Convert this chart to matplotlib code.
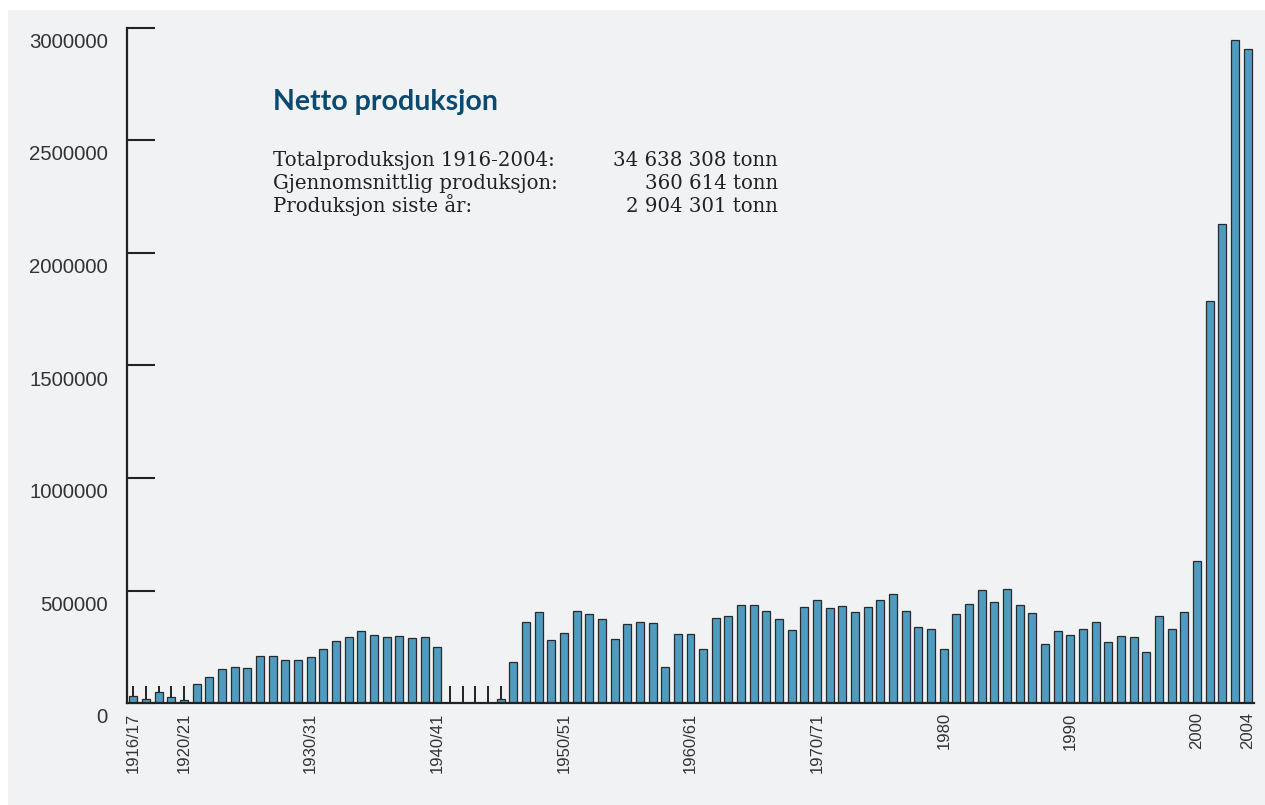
import matplotlib
matplotlib.use("Agg")
import matplotlib.pyplot as plt
import matplotlib.transforms as mtransforms
from matplotlib.patches import Rectangle
from matplotlib.ticker import FixedLocator

# ---------------- data ----------------
years = list(range(1916, 2005))
production = [
    34000, 20700, 50000, 26700, 13000,                                   # 1916-1920
    84500, 115600, 154000, 163000, 155600, 209000, 209000, 192700, 192700, 206000,  # 1921-1930
    243000, 278600, 293400, 321600, 303800, 293400, 300800, 290500, 293400, 249000,  # 1931-1940
    0, 0, 0, 0, 20700,                                                   # 1941-1945
    182000, 360000, 407500, 283000, 311000, 412000, 395700, 375000, 284500, 352700,  # 1946-1955
    361600, 355700, 160000, 306800, 309700, 243000, 380900, 388300, 437200, 438700,  # 1956-1965
    410500, 373500, 327500, 426800, 458000, 425300, 432700, 406000, 429800, 459400,  # 1966-1975
    484600, 410500, 337900, 329000, 243000, 397200, 443100, 503900, 452000, 508300,  # 1976-1985
    438700, 401600, 265300, 320100, 303800, 331100, 359000, 270900, 301000, 292400,  # 1986-1995
    230000, 387000, 329000, 404200, 632100, 1784500, 2128500, 2945000, 2904301,      # 1996-2004
]
label_years = [1916, 1920, 1930, 1940, 1950, 1960, 1970, 1980, 1990, 2000, 2004]
label_texts = ["1916/17", "1920/21", "1930/31", "1940/41", "1950/51", "1960/61",
               "1970/71", "1980", "1990", "2000", "2004"]
marked_years = [1916, 1917, 1918, 1919, 1920, 1941, 1942, 1943, 1944, 1945]
yticks = [0, 500000, 1000000, 1500000, 2000000, 2500000, 3000000]

title = "Netto produksjon"
info_labels = ["Totalproduksjon 1916-2004:", "Gjennomsnittlig produksjon:", "Produksjon siste år:"]
info_values = ["34 638 308 tonn", "360 614 tonn", "2 904 301 tonn"]

# ---------------- figure ----------------
W, H, DPI = 1265, 805, 100
fig = plt.figure(figsize=(W / DPI, H / DPI), dpi=DPI, facecolor="white")
bg = "#f1f2f4"
fig.patches.append(Rectangle((8 / W, 0), 1 - 8 / W, 1 - 10 / H, transform=fig.transFigure,
                             facecolor=bg, edgecolor="none", zorder=-10))

left, right = 127 / W, 1254 / W
bottom, top = 1 - 703.3 / H, 1 - 27.7 / H
ax = fig.add_axes([left, bottom, right - left, top - bottom])
ax.set_facecolor("none")

x = [y - years[0] for y in years]
ax.bar(x, production, width=0.63, color="#4f9cc0", edgecolor="#2a2a2a", linewidth=0.9, zorder=2)

ax.set_xlim(-0.5, len(years) - 0.5)
ax.set_ylim(0, 3000000)

for s in ["top", "right"]:
    ax.spines[s].set_visible(False)
for s in ["left", "bottom"]:
    ax.spines[s].set_color("#222222")
    ax.spines[s].set_linewidth(1.6)
    ax.spines[s].set_zorder(3)

# y axis
ax.yaxis.set_major_locator(FixedLocator(yticks))
ax.set_yticklabels([str(v) for v in yticks])
ax.tick_params(axis="y", direction="in", length=20, width=1.5, color="#222222",
               pad=13.7, labelsize=14.7, labelcolor="#333333")
for lab in ax.get_yticklabels():
    lab.set_fontfamily("Liberation Sans")
offset = mtransforms.ScaledTranslation(0, -12.6 / DPI, fig.dpi_scale_trans)
for tick in ax.yaxis.get_major_ticks():
    tick.label1.set_transform(tick.label1.get_transform() + offset)

# x axis
ax.xaxis.remove_overlapping_locs = False
ax.xaxis.set_major_locator(FixedLocator([y - years[0] for y in label_years]))
ax.set_xticklabels(label_texts, rotation=90, fontfamily="Liberation Sans")
ax.xaxis.set_minor_locator(FixedLocator([y - years[0] for y in marked_years]))
ax.tick_params(axis="x", which="major", length=0, pad=6.5, labelsize=12, labelcolor="#333333")
ax.tick_params(axis="x", which="minor", direction="in", length=12, width=1.4, color="#222222")

# text block
fig.text(273 / W, 1 - 110 / H, title, ha="left", va="baseline", fontsize=20.5,
         fontweight="bold", fontfamily="Lato", color="#0b4a6e")
for i, (lab, val) in enumerate(zip(info_labels, info_values)):
    yy = 1 - (166.5 + 22.5 * i) / H
    fig.text(273 / W, yy, lab, ha="left", va="baseline", fontsize=14.2,
             fontfamily="DejaVu Serif", color="#222222")
    fig.text(778 / W, yy, val, ha="right", va="baseline", fontsize=14.2,
             fontfamily="DejaVu Serif", color="#222222")

fig.savefig("out.png", dpi=DPI, facecolor=fig.get_facecolor())
